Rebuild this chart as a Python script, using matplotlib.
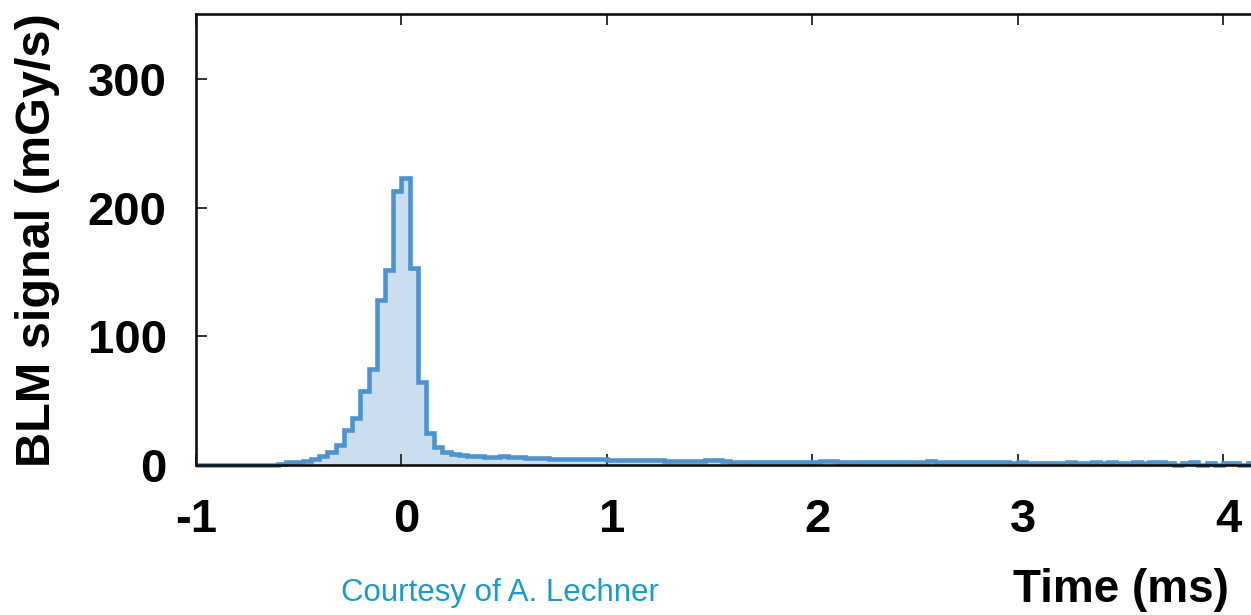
import numpy as np
import matplotlib
matplotlib.use("Agg")
import matplotlib.pyplot as plt
import matplotlib.transforms as mtransforms

# ---- data ----
bin_start = -1.0
bin_width = 0.04
signal = [
    0, 0, 0, 0, 0, 0, 0, 0, 0, 0.3,
    0.8, 2.0, 2.2, 3.1, 4.7, 7.0, 10.4, 15.5, 27.2, 36.3,
    57.5, 74.4, 128.3, 151.6, 213.3, 223.2, 153.0, 64.8, 24.6, 13.7,
    9.9, 8.3, 8.0, 7.0, 6.8, 6.5, 6.0, 6.8, 6.5, 6.0,
    5.8, 5.5, 5.4, 5.0, 4.9, 4.7, 4.5, 4.4, 4.3, 4.4,
    4.2, 4.0, 4.1, 3.9, 3.8, 3.6, 3.5, 3.4, 3.2, 3.1,
    3.2, 3.0, 3.6, 3.5, 2.8, 2.7, 2.6, 2.7, 2.6, 2.5,
    2.6, 2.5, 2.4, 2.5, 2.4, 2.3, 2.8, 2.9, 2.4, 2.5,
    2.4, 2.4, 2.3, 2.4, 2.3, 2.3, 2.5, 2.2, 2.3, 2.8,
    2.7, 2.2, 2.1, 2.2, 2.1, 2.0, 2.1, 2.0, 2.0, 1.9,
    2.0, 1.9, 1.9, 1.8, 1.9, 1.8, 2.2, 1.8, 1.9, 2.2,
    1.8, 2.2, 1.7, 1.8, 2.2, 1.7, 2.3, 2.2, 1.6, 0.0,
    1.5, 2.0, 0.0, 1.5, 0.0, 1.8, 1.6, 0.0, 1.6, 1.6,
]
x_ticks = [-1, 0, 1, 2, 3, 4]
x_tick_labels = ["-1", "0", "1", "2", "3", "4"]
y_ticks = [0, 100, 200, 300]
y_tick_labels = ["0", "100", "200", "300"]

edges = bin_start + bin_width * np.arange(len(signal) + 1)

W, H = 1251, 615
fig = plt.figure(figsize=(W / 100, H / 100), dpi=100)
plt.rcParams['font.family'] = ['Liberation Sans', 'DejaVu Sans']

left_px, bottom_px, top_px = 196, 465, 14.3
px_per_unit = 205.4
ax_w_px = W - left_px + 8
ax = fig.add_axes([left_px / W, 1 - bottom_px / H, ax_w_px / W, (bottom_px - top_px) / H])
ax.set_xlim(-1, -1 + ax_w_px / px_per_unit)
ax.set_ylim(0, 350.5)

line_c = '#4d93d0'
fill_c = '#cbdef0'
ax.stairs(signal, edges, baseline=0, fill=True, color=fill_c, zorder=1)
st = ax.stairs(signal, edges, baseline=None, color=line_c, linewidth=3.3, zorder=2)
st.set_clip_on(False)

for side in ['left', 'top', 'bottom']:
    ax.spines[side].set_linewidth(1.9)
    ax.spines[side].set_color('#111111')
    ax.spines[side].set_zorder(3)
ax.spines['right'].set_visible(False)

ax.set_xticks(x_ticks)
ax.set_xticklabels(x_tick_labels)
ax.set_yticks(y_ticks)
ax.set_yticklabels(y_tick_labels)
ax.tick_params(axis='both', direction='in', length=8, width=1.4, color='#333333',
               labelsize=34, top=True, right=False)
ax.tick_params(axis='x', pad=24)
ax.tick_params(axis='y', pad=21)
shift = mtransforms.ScaledTranslation(5 / 100, 0, fig.dpi_scale_trans)
for lab in ax.get_xticklabels():
    lab.set_fontweight('bold')
    if not lab.get_text().startswith('-'):
        lab.set_transform(lab.get_transform() + shift)
for lab in ax.get_yticklabels():
    lab.set_fontweight('bold')

fig.text(38 / W, 1 - 240 / H, "BLM signal (mGy/s)", rotation=90, ha='center', va='center',
         fontsize=35, fontweight='bold')
fig.text(1229 / W, 1 - 590 / H, "Time (ms)", ha='right', va='center',
         fontsize=33, fontweight='bold')
fig.text(500 / W, 1 - 593 / H, "Courtesy of A. Lechner", ha='center', va='center',
         fontsize=22.5, color='#1b9bc8')

fig.savefig("out.png", dpi=100)
